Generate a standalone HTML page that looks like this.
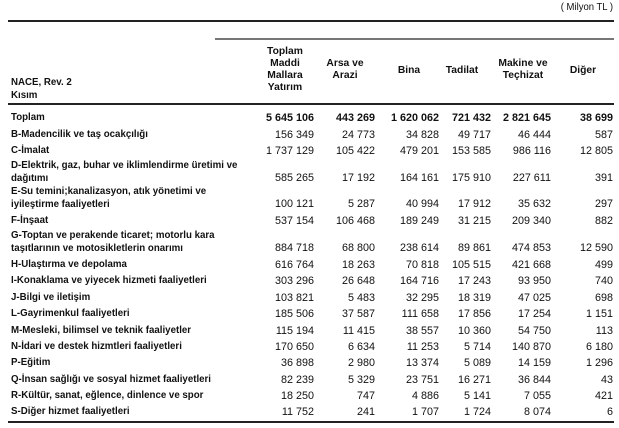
<!DOCTYPE html><html><head><meta charset="utf-8"><style>
body{margin:0;background:#fff;width:619px;height:428px;position:relative;overflow:hidden;font-family:"Liberation Sans",Arial,sans-serif;font-weight:bold;font-size:10px;color:#111}
.a{position:absolute;white-space:nowrap;line-height:12px}
.l{left:11px;transform:scaleX(.97);transform-origin:left}
.n{text-align:right;transform:scaleX(.98);transform-origin:right;width:80px;font-size:11px}
.h{text-align:center;width:80px;transform:scaleX(1.03)}
.ln{position:absolute;background:#222}
</style></head><body>
<div class="a" style="right:6px;top:2px;font-weight:normal;transform:scaleX(.95);transform-origin:right">( Milyon TL )</div>
<div class="ln" style="left:8px;right:5px;top:20px;height:2px"></div>
<div class="ln" style="left:215px;right:5px;top:38px;height:2px;background:#777"></div>
<div class="ln" style="left:8px;right:5px;top:103px;height:2px"></div>
<div class="ln" style="left:8px;right:5px;top:421px;height:2px"></div>
<div class="a l" style="top:77px">NACE, Rev. 2</div>
<div class="a l" style="top:90px">Kısım</div>
<div class="a h" style="left:245px;top:46px">Toplam<br>Maddi<br>Mallara<br>Yatırım</div>
<div class="a h" style="left:305px;top:58px">Arsa ve<br>Arazi</div>
<div class="a h" style="left:369px;top:65px">Bina</div>
<div class="a h" style="left:422px;top:65px">Tadilat</div>
<div class="a h" style="left:483px;top:58px">Makine ve<br>Teçhizat</div>
<div class="a h" style="left:543px;top:65px">Diğer</div>
<div id="rows"></div>
<script>
var R=[
[112,"Toplam",["5 645 106","443 269","1 620 062","721 432","2 821 645","38 699"],0],
[129,"B-Madencilik ve taş ocakçılığı",["156 349","24 773","34 828","49 717","46 444","587"],0],
[145,"C-İmalat",["1 737 129","105 422","479 201","153 585","986 116","12 805"],0],
[159,"D-Elektrik, gaz, buhar ve iklimlendirme üretimi ve<br>dağıtımı",["585 265","17 192","164 161","175 910","227 611","391"],1],
[185,"E-Su temini;kanalizasyon, atık yönetimi ve<br>iyileştirme faaliyetleri",["100 121","5 287","40 994","17 912","35 632","297"],1],
[215,"F-İnşaat",["537 154","106 468","189 249","31 215","209 340","882"],0],
[229,"G-Toptan ve perakende ticaret; motorlu kara<br>taşıtlarının ve motosikletlerin onarımı",["884 718","68 800","238 614","89 861","474 853","12 590"],1],
[259,"H-Ulaştırma ve depolama",["616 764","18 263","70 818","105 515","421 668","499"],0],
[275,"I-Konaklama ve yiyecek hizmeti faaliyetleri",["303 296","26 648","164 716","17 243","93 950","740"],0],
[292,"J-Bilgi ve iletişim",["103 821","5 483","32 295","18 319","47 025","698"],0],
[308,"L-Gayrimenkul faaliyetleri",["185 506","37 587","111 658","17 856","17 254","1 151"],0],
[325,"M-Mesleki, bilimsel ve teknik faaliyetler",["115 194","11 415","38 557","10 360","54 750","113"],0],
[341,"N-İdari ve destek hizmtleri faaliyetleri",["170 650","6 634","11 253","5 714","140 870","6 180"],0],
[357,"P-Eğitim",["36 898","2 980","13 374","5 089","14 159","1 296"],0],
[374,"Q-İnsan sağlığı ve sosyal hizmet faaliyetleri",["82 239","5 329","23 751","16 271","36 844","43"],0],
[390,"R-Kültür, sanat, eğlence, dinlence ve spor",["18 250","747","4 886","5 141","7 055","421"],0],
[406,"S-Diğer hizmet faaliyetleri",["11 752","241","1 707","1 724","8 074","6"],0]];
var X=[314,375,439,491,551,613],h="";
R.forEach(function(r){h+='<div class="a l" style="top:'+r[0]+'px;line-height:'+(r[3]?13:12)+'px">'+r[1]+'</div>';
var t=r[3]?r[0]+13:r[0];
r[2].forEach(function(v,i){h+='<div class="a n" style="top:'+t+'px;left:'+(X[i]-80)+'px;font-weight:'+(r[0]==112?'bold':'normal')+'">'+v+'</div>';});});
document.getElementById("rows").innerHTML=h;
</script>
</body></html>
